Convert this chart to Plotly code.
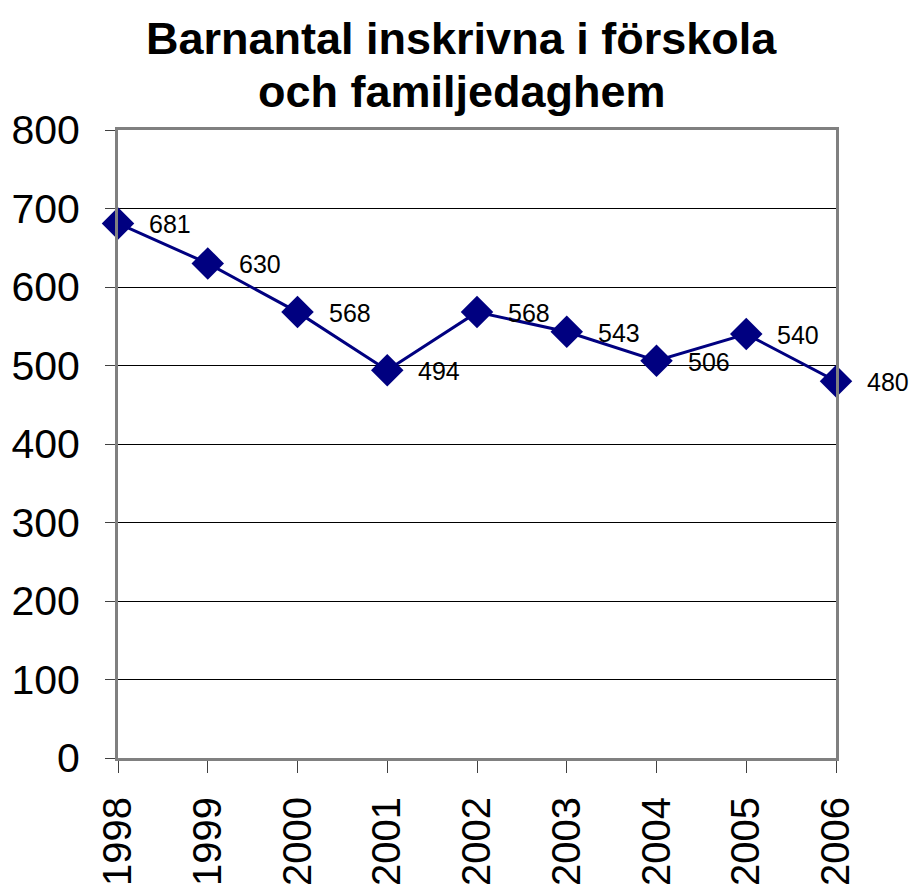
import plotly.graph_objects as go

years = [1998, 1999, 2000, 2001, 2002, 2003, 2004, 2005, 2006]
values = [681, 630, 568, 494, 568, 543, 506, 540, 480]
y_ticks = [0, 100, 200, 300, 400, 500, 600, 700, 800]
title_lines = ["Barnantal inskrivna i förskola", "och familjedaghem"]

navy = "#000080"
FONT = "Arial, Liberation Sans, sans-serif"
fig = go.Figure()
fig.add_trace(go.Scatter(
    x=years, y=values, mode="lines+markers",
    line=dict(color=navy, width=3),
    marker=dict(symbol="diamond", size=25, color=navy),
    cliponaxis=False, showlegend=False,
))
for x, v in zip(years, values):
    fig.add_annotation(x=x, y=v, text=str(v), showarrow=False,
                       xanchor="left", yanchor="middle", xshift=29, yshift=-1,
                       font=dict(family=FONT, size=25, color="black"))

# title as two lines (paper coords), to control line spacing
for line, yy in zip(title_lines, [1.145, 1.062]):
    fig.add_annotation(xref="paper", yref="paper", x=0.479, y=yy,
                       text="<b>" + line + "</b>", showarrow=False,
                       xanchor="center", yanchor="middle",
                       font=dict(family=FONT, size=45, color="black"))

fig.update_layout(
    width=919, height=888,
    margin=dict(l=110, r=91, t=122, b=138),
    paper_bgcolor="white", plot_bgcolor="white",
    font=dict(family=FONT, color="black"),
)
fig.update_xaxes(
    range=[1998, 2006], tickvals=years, ticktext=[str(y) for y in years],
    tickangle=-90, tickfont=dict(size=40), ticks="outside", ticklen=12,
    tickcolor="#404040", tickwidth=1, ticklabelstandoff=8, automargin=False,
    showline=True, linecolor="#808080", linewidth=3, mirror=True,
    showgrid=False, zeroline=False,
)
fig.update_yaxes(
    range=[0, 800], tickvals=y_ticks, tickfont=dict(size=41),
    ticks="outside", ticklen=10, tickcolor="#404040", tickwidth=1,
    ticklabelstandoff=17, automargin=False,
    showline=True, linecolor="#808080", linewidth=3, mirror=True,
    showgrid=True, gridcolor="black", gridwidth=1, zeroline=False,
)
fig.write_html("out.html")
